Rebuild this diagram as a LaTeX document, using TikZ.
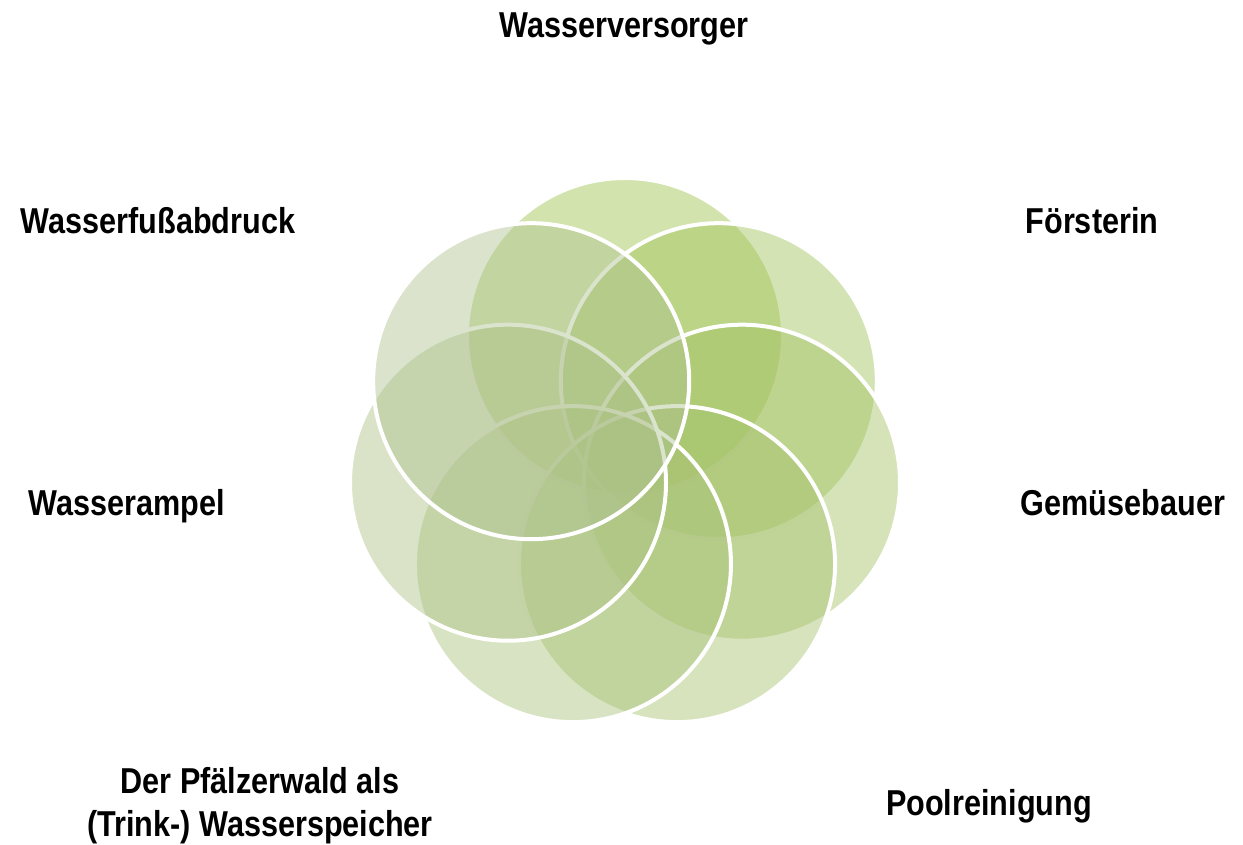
\documentclass[tikz,border=0pt]{standalone}
\usepackage{fontspec}
\setmainfont{Liberation Sans}[FakeStretch=0.85]
\usetikzlibrary{calc}
\definecolor{petalA}{RGB}{157,193,75}
\definecolor{petalG}{RGB}{175,193,144}
\tikzstyle{petal} = [circle, minimum size=316pt, inner sep=0pt, draw=white, line width=4pt, fill opacity=0.45]
\tikzstyle{stakeholder} = [font=\bfseries\fontsize{36}{43}\selectfont, align=center, inner sep=0pt, anchor=base]

\begin{document}
\begin{tikzpicture}[x=1pt, y=1pt]
  \useasboundingbox (-625,-389) rectangle (618,456);
  \coordinate (centre) at (0,0);
  \node (versorger) [petal, fill=petalA] at ($(centre)+(90:120)$) {};
  \node (foerster) [petal, fill=petalG!17!petalA] at ($(centre)+(38.57:120)$) {};
  \node (bauer) [petal, fill=petalG!33!petalA] at ($(centre)+(-12.86:120)$) {};
  \node (pool) [petal, fill=petalG!50!petalA] at ($(centre)+(-64.29:120)$) {};
  \node (wald) [petal, fill=petalG!67!petalA] at ($(centre)+(-115.71:120)$) {};
  \node (ampel) [petal, fill=petalG!83!petalA] at ($(centre)+(-167.14:120)$) {};
  \node (abdruck) [petal, fill=petalG] at ($(centre)+(141.43:120)$) {};
  \node (versorgertext) [stakeholder] at (-1,418) {Wasserversorger};
  \node (foerstertext) [stakeholder] at (467,222) {Försterin};
  \node (bauertext) [stakeholder] at (498,-60) {Gemüsebauer};
  \node (pooltext) [stakeholder] at (364,-360) {Poolreinigung};
  \node (waldtext) [stakeholder, anchor=center] at (-365,-350) {Der Pfälzerwald als\\(Trink-) Wasserspeicher};
  \node (ampeltext) [stakeholder] at (-498,-60) {Wasserampel};
  \node (abdrucktext) [stakeholder] at (-467,222) {Wasserfußabdruck};
\end{tikzpicture}
\end{document}
